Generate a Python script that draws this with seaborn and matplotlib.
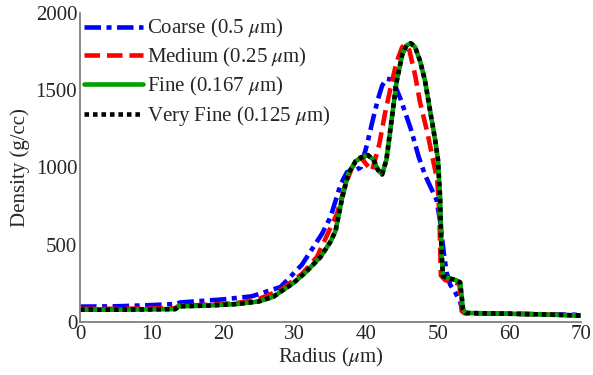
import matplotlib
matplotlib.use("Agg")
import matplotlib.pyplot as plt
import seaborn as sns
import pandas as pd

# ---- data ----
coarse_x = [0, 5, 10, 13.3, 14.0, 20, 24, 28, 31, 33.8, 35.0, 36.4, 37.3, 38.2, 39.2, 40.1, 40.8, 41.6,
            42.2, 42.8, 43.4, 44.0, 44.8, 46.2, 47.3, 48.2, 49.0, 49.8, 50.3, 50.8, 51.2, 51.7, 52.3,
            53.0, 53.5, 54.0, 60, 65, 70]
coarse_y = [98, 100, 108, 115, 125, 145, 165, 225, 370, 570, 680, 890, 970, 975, 1000, 1150, 1290, 1440,
            1530, 1575, 1570, 1530, 1440, 1250, 1070, 950, 870, 790, 650, 450, 320, 240, 200,
            140, 70, 55, 52, 48, 45]

medium_x = [0, 5, 10, 13.3, 13.8, 18, 22, 25, 28, 31, 33.1, 35.9, 37.0, 38.0, 39.2, 40.0, 40.8, 41.8,
            42.6, 43.4, 44.2, 45.0, 45.4, 46.0, 46.8, 47.5, 48.5, 49.3, 49.9, 50.2, 50.4, 51.0, 53.0,
            53.3, 53.7, 56, 60, 65, 70]
medium_y = [84, 84, 86, 88, 104, 110, 122, 148, 205, 310, 420, 700, 880, 1000, 1067, 1020, 980, 1150,
            1350, 1520, 1680, 1780, 1795, 1760, 1600, 1420, 1230, 1050, 920, 700, 300, 270, 245,
            70, 55, 54, 52, 47, 40]

fine_x = [0, 5, 10, 13.3, 13.8, 18, 22, 25, 27, 29.8, 31.5, 33.6, 35.0, 35.7, 36.6, 37.5, 38.5, 39.4,
          40.2, 41.0, 41.6, 42.2, 42.8, 43.5, 44.2, 45.0, 45.6, 46.2, 46.8, 47.5, 48.2, 49.0, 49.6,
          50.0, 50.3, 50.5, 50.7, 51.5, 52.5, 53.1, 53.5, 53.9, 56, 60, 65, 70]
fine_y = [78, 78, 80, 82, 100, 105, 115, 132, 162, 251, 320, 420, 520, 590, 800, 963, 1040, 1067,
          1080, 1050, 985, 955, 1050, 1300, 1550, 1730, 1790, 1805, 1780, 1690, 1560, 1340, 1180,
          1050, 800, 450, 295, 282, 270, 255, 80, 57, 55, 52, 47, 40]

vfine_x = [0, 5, 10, 13.3, 13.8, 18, 22, 25, 27, 29.8, 31.5, 33.6, 35.0, 35.7, 36.6, 37.5, 38.5, 39.4,
           40.2, 41.0, 41.6, 42.2, 42.8, 43.5, 44.2, 45.0, 45.6, 46.2, 46.8, 47.5, 48.2, 49.0, 49.6,
           50.0, 50.3, 50.5, 50.7, 51.5, 52.5, 53.1, 53.5, 53.9, 56, 60, 65, 70]
vfine_y = [78, 78, 80, 82, 100, 105, 115, 132, 162, 251, 320, 420, 520, 590, 800, 963, 1040, 1067,
           1080, 1050, 985, 955, 1050, 1300, 1550, 1730, 1790, 1805, 1780, 1690, 1560, 1340, 1180,
           1050, 800, 450, 295, 282, 270, 255, 80, 57, 55, 52, 47, 40]

labels = [r"Coarse (0.5 $\mu$m)", r"Medium (0.25 $\mu$m)", r"Fine (0.167 $\mu$m)", r"Very Fine (0.125 $\mu$m)"]
x_ticks = [0, 10, 20, 30, 40, 50, 60, 70]
y_ticks = [0, 500, 1000, 1500, 2000]

# ---- style ----
sns.set_style("white")
plt.rcParams["font.family"] = ["Liberation Serif", "DejaVu Serif"]
plt.rcParams["mathtext.fontset"] = "stix"
plt.rcParams["font.size"] = 15

fig = plt.figure(figsize=(5.93, 3.75), dpi=100)
ax = fig.add_axes([0.135, 0.142, 0.845, 0.823])

series = [
    (coarse_x, coarse_y, labels[0], "#0000FF", (3.6, 1.2, 1.1, 1.2)),
    (medium_x, medium_y, labels[1], "#FF0000", (3.4, 1.5)),
    (fine_x, fine_y, labels[2], "#00A000", None),
    (vfine_x, vfine_y, labels[3], "#000000", (1.0, 0.85)),
]
lw = 3.3
for xs, ys, lab, col, dash in series:
    df = pd.DataFrame({"x": xs, "y": ys})
    sns.lineplot(data=df, x="x", y="y", ax=ax, color=col, lw=lw, label=lab,
                 estimator=None, sort=False)
    line = ax.lines[-1]
    if dash is not None:
        line.set_dashes(dash)

ax.set_xlim(0, 70)
ax.set_ylim(0, 2000)
ax.set_xticks(x_ticks)
ax.set_yticks(y_ticks)
ax.set_xlabel(r"Radius ($\mu$m)", fontsize=15, labelpad=2)
ax.set_ylabel("Density (g/cc)", fontsize=15, labelpad=4)

for s in ["top", "right"]:
    ax.spines[s].set_visible(False)
for s in ["left", "bottom"]:
    ax.spines[s].set_color("#808080")
    ax.spines[s].set_linewidth(1.3)
ax.tick_params(direction="in", length=4, width=1, color="#808080", labelsize=15, pad=2)

leg = ax.legend(loc="upper left", frameon=False, handlelength=2.8, handletextpad=0.2,
                labelspacing=0.28, borderaxespad=0.1, borderpad=0.1, fontsize=15)

fig.savefig("out.png", dpi=100)
